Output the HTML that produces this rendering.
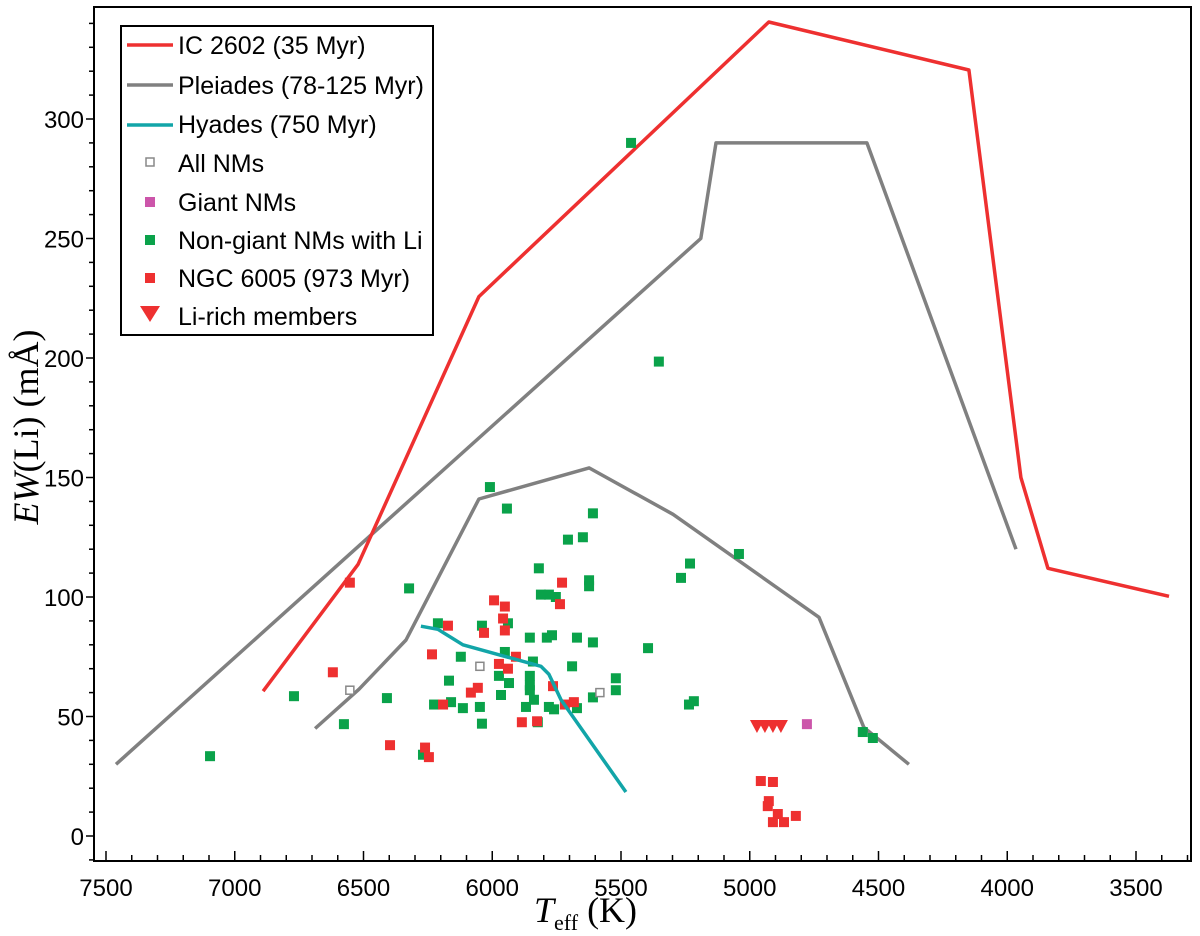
<!DOCTYPE html>
<html><head><meta charset="utf-8"><style>
body{margin:0;background:#fff;}
svg{display:block;font-family:"Liberation Sans",Arial,sans-serif;}
</style></head><body>
<svg id="chart" width="1200" height="936" viewBox="0 0 1200 936" xmlns="http://www.w3.org/2000/svg">
<g id="marks"></g>
<g id="axes"></g>
</svg>
<script>
const xTicks=[7500,7000,6500,6000,5500,5000,4500,4000,3500];
const yTicks=[0,50,100,150,200,250,300];
const ic2602T=[6890,6521,6052,4926,4149,3947,3842,3372];
const ic2602EW=[60.6,113.7,225.7,340.6,320.5,150,112,100.3];
const pleiUpT=[7461,5190,5131,4545,3966];
const pleiUpEW=[30,250,290,290,120];
const pleiLoT=[6688,6518,6335,6052,5624,5298,4731,4557,4382];
const pleiLoEW=[45,61.4,82,141,154,134.6,91.5,45.5,30];
const hyadesT=[6277,6211,6114,5811,5780,5733,5481];
const hyadesEW=[87.8,86.5,80,71,67.7,57,18.4];
const greenT=[7096,6770,6576,6409,6323,6269,6009,5943,5609,5706,5648,5819,5624,5624,5232,5267,5811,5780,5753,6211,6040,5939,5854,5788,5768,5671,5609,5395,6122,5951,5842,5690,5854,5974,5935,6168,5520,5520,5854,5854,5966,5838,5609,6160,6226,6114,6048,5869,5780,5760,5671,5236,5217,6040,5823,5461,5353,5042,4561,4522];
const greenEW=[33.4,58.5,46.8,57.7,103.6,34,146,137,135,124,125,112,107,104.5,114,108,101,101,100,89,88,89,83,83,84,83,81,78.6,75,77,73,71,67,67,64,65,66,61,63,61,59,57,58,56,55,53.5,54,54,54,53,53.5,55,56.4,47,47.6,290,198.5,118,43.5,41];
const redT=[6553,5729,5993,5951,5737,5958,6172,6032,5951,6234,5908,6619,5974,5939,6056,6083,5764,6191,5718,5683,5885,5826,6397,6261,6246,4957,4910,4926,4930,4891,4910,4867,4821];
const redEW=[106,106,98.6,96,97,91,88,85,86,76,75,68.5,72,70,62,60,62.7,55,55,56,47.6,48,38,37,33,23,22.6,14.6,12.5,9.2,5.8,5.8,8.4];
const triT=[4972,4941,4910,4879];
const triEW=[46,46,46,46];
const giantT=[4778];
const giantEW=[46.8];
const openT=[6048,6553,5582];
const openEW=[71,61,60];

const NS="http://www.w3.org/2000/svg";
const X0=94,X1=1191,Y0=7,Y1=861;
function xs(t){return 106+(7500-t)*0.2575;}
function ys(v){return 836-v*2.39;}
function mk(tag,attrs,parent){const e=document.createElementNS(NS,tag);for(const k in attrs)e.setAttribute(k,attrs[k]);parent.appendChild(e);return e;}
const marks=document.getElementById('marks');
const axes=document.getElementById('axes');

function line(T,E,color,name){
  const pts=T.map((t,i)=>xs(t).toFixed(1)+','+ys(E[i]).toFixed(1)).join(' ');
  const p=mk('polyline',{points:pts,fill:'none',stroke:color,'stroke-width':3.5,'stroke-linejoin':'round'},marks);
  
  
}
line(pleiUpT,pleiUpEW,'#808080','pleiades-upper-line');
line(pleiLoT,pleiLoEW,'#808080','pleiades-lower-line');
line(ic2602T,ic2602EW,'#ee3030','ic2602-line');

function squares(T,E,color,name){
  T.forEach((t,i)=>{
    const r=mk('rect',{x:xs(t)-5,y:ys(E[i])-5,width:10,height:10,fill:color},marks);
    
    
  });
}
squares(greenT,greenEW,'#0aa24a','non-giant-nm-point');
squares(redT,redEW,'#ee3030','ngc6005-point');
line(hyadesT,hyadesEW,'#12a5a8','hyades-line');
squares(giantT,giantEW,'#cc55aa','giant-nm-point');
openT.forEach((t,i)=>{
  const r=mk('rect',{x:xs(t)-4,y:ys(openEW[i])-4,width:8,height:8,fill:'#fff',stroke:'#888','stroke-width':1.5},marks);
  
  
});
triT.forEach((t,i)=>{
  const x=xs(t),y=ys(triEW[i]);
  const p=mk('polygon',{points:`${x-7},${y-6} ${x+7},${y-6} ${x},${y+7}`,fill:'#ee3030'},marks);
  
  
});

const frame=mk('rect',{x:X0,y:Y0,width:X1-X0,height:Y1-Y0,fill:'none',stroke:'#000','stroke-width':2},axes);


for(let t=7500;t>=3300;t-=100){
  const x=xs(t);if(x>X1)continue;const major=(t%500===0);
  mk('line',{x1:x,x2:x,y1:Y1,y2:Y1-(major?10:6),stroke:'#000','stroke-width':1.5},axes);
}
xTicks.forEach(t=>{
  const tx=mk('text',{x:xs(t),y:896,'text-anchor':'middle','font-size':24},axes);
  tx.textContent=t;
  
  
});
for(let v=-10;v<=340;v+=10){
  const y=ys(v);if(y<Y0||y>Y1)continue;const major=(v%50===0);
  mk('line',{x1:X0,x2:X0-(major?8:5),y1:y,y2:y,stroke:'#000','stroke-width':1.5},axes);
}
yTicks.forEach(v=>{
  const tx=mk('text',{x:84,y:ys(v)+9,'text-anchor':'end','font-size':24},axes);
  tx.textContent=v;
  
  
});
</script>
<svg style="position:absolute;left:0;top:0" width="1200" height="936">
<text x="534" y="922" font-family="Liberation Serif,serif" font-size="36"><tspan font-style="italic">T</tspan><tspan font-size="22" dy="8">eff</tspan><tspan dy="-8"> (K)</tspan></text>
<text transform="translate(38,427) rotate(-90)" text-anchor="middle" font-family="Liberation Serif,serif" font-size="36"><tspan font-style="italic">EW</tspan>(Li) (mÅ)</text>
<g font-family="Liberation Sans,sans-serif" font-size="25">
<rect x="121" y="26" width="312" height="309" fill="#fff" stroke="#000" stroke-width="2"/>
<line x1="127" x2="173" y1="45" y2="45" stroke="#ee3030" stroke-width="3.5"/><text x="178" y="54">IC 2602 (35 Myr)</text>
<line x1="127" x2="173" y1="85" y2="85" stroke="#808080" stroke-width="3.5"/><text x="178" y="94">Pleiades (78-125 Myr)</text>
<line x1="127" x2="173" y1="125" y2="125" stroke="#12a5a8" stroke-width="3.5"/><text x="178" y="133">Hyades (750 Myr)</text>
<rect x="146" y="158" width="8" height="8" fill="#fff" stroke="#888" stroke-width="1.5"/><text x="178" y="172">All NMs</text>
<rect x="145" y="197" width="10" height="10" fill="#cc55aa"/><text x="178" y="211">Giant NMs</text>
<rect x="145" y="235" width="10" height="10" fill="#0aa24a"/><text x="178" y="249">Non-giant NMs with Li</text>
<rect x="145" y="273" width="10" height="10" fill="#ee3030"/><text x="178" y="287">NGC 6005 (973 Myr)</text>
<polygon points="140,306 160,306 150,322" fill="#ee3030"/><text x="178" y="325">Li-rich members</text>
</g>
</svg>
</body></html>
